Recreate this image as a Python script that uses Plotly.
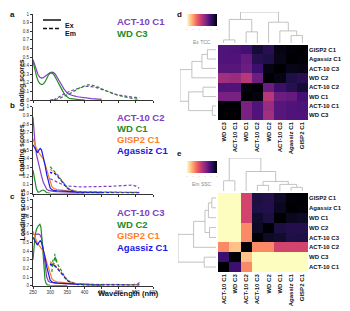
import plotly.graph_objects as go
import plotly.colors as pc

W, H = 350, 311
def X(px): return px / W
def Y(py): return 1 - py / H

PURPLE = '#8040C0'; GREEN = '#228B22'; ORANGE = '#FF7F27'; BLUE = '#1A1AE6'
FONT = 'Liberation Sans'
DASH = '3px,2px'

# ---------------- spectra data ----------------
# panel a
wl_act10c1_ex = [250,255,260,265,270,275,280,285,290,295,300,305,310,315,320,325,330,335,340,345,350,355,360,370,380,390,400,420,440,450]
act10c1_ex = [0.47,0.40,0.33,0.29,0.265,0.255,0.26,0.275,0.295,0.31,0.32,0.323,0.318,0.30,0.27,0.235,0.20,0.165,0.13,0.10,0.08,0.067,0.058,0.047,0.038,0.031,0.025,0.017,0.011,0.008]
wl_wdc3_ex = [250,255,260,265,270,275,280,285,290,295,300,305,310,315,320,325,330,335,340,345,350,355,360,370,380,390,400]
wdc3_ex = [0.45,0.36,0.28,0.22,0.19,0.18,0.185,0.21,0.25,0.29,0.31,0.315,0.30,0.27,0.23,0.19,0.15,0.11,0.08,0.05,0.03,0.02,0.015,0.008,0.004,0.002,0.001]
wl_act10c1_em = [310,320,330,340,350,360,370,380,390,400,410,420,430,440,450,460,470,480,490,500,510,520,530,540,550,560]
act10c1_em = [0.0,0.02,0.045,0.07,0.09,0.105,0.12,0.135,0.148,0.157,0.16,0.158,0.15,0.138,0.123,0.108,0.094,0.08,0.068,0.058,0.05,0.043,0.037,0.032,0.03,0.028]
wl_wdc3_em = [300,310,320,330,340,350,360,370,380,390,400,410,420,430,440,450,460,470,480,490,500,510,520,530,540,550,560]
wdc3_em = [0.0,0.005,0.012,0.025,0.04,0.06,0.08,0.10,0.125,0.15,0.168,0.177,0.175,0.165,0.15,0.13,0.112,0.095,0.078,0.064,0.052,0.042,0.033,0.025,0.018,0.012,0.008]

# panel b
wl_act10c2_ex = [250,253,256,260,265,270,275,280,285,290,295,300,310,320,340,360,400,450]
act10c2_ex = [0.88,0.70,0.57,0.45,0.36,0.28,0.20,0.13,0.08,0.05,0.035,0.03,0.025,0.02,0.016,0.014,0.01,0.008]
wl_gisp2c1_ex = [250,255,260,265,270,275,280,285,290,295,300,305,310,320,340,360,400,450]
gisp2c1_ex = [0.63,0.57,0.52,0.48,0.45,0.43,0.40,0.34,0.27,0.19,0.12,0.08,0.06,0.045,0.035,0.025,0.015,0.01]
wl_agassizc1_ex = [250,255,260,263,267,271,275,280,285,290,295,300,305,310,320,340,360,400,450]
agassizc1_ex = [0.56,0.52,0.48,0.47,0.50,0.52,0.50,0.43,0.33,0.22,0.12,0.065,0.045,0.035,0.03,0.025,0.02,0.015,0.01]
wl_wdc1_ex = [250,253,256,260,265,270,275,280,285,290,300,320,350,400]
wdc1_ex = [0.27,0.20,0.12,0.05,0.015,0.02,0.035,0.04,0.03,0.01,0.003,0.002,0.001,0.0]
wl_wdc1_em = [300,305,310,315,320,325,330,335,340,345,350,360,370,380,400,420,450,480,500,520,540,560]
wdc1_em = [0.31,0.29,0.27,0.25,0.23,0.20,0.17,0.14,0.11,0.085,0.065,0.04,0.028,0.022,0.02,0.02,0.02,0.018,0.02,0.018,0.015,0.012]
wl_gisp2c1_em = [300,305,310,315,320,325,330,335,340,345,350,360,370,380,400,450,500,560]
gisp2c1_em = [0.28,0.265,0.25,0.235,0.215,0.19,0.165,0.14,0.115,0.09,0.07,0.045,0.03,0.022,0.018,0.015,0.013,0.012]
wl_agassizc1_em = [300,303,306,310,315,320,325,330,335,340,345,350,360,370,380,400,450,500,560]
agassizc1_em = [0.25,0.235,0.245,0.24,0.225,0.205,0.18,0.155,0.13,0.105,0.08,0.06,0.035,0.02,0.013,0.01,0.008,0.008,0.008]
wl_act10c2_em = [300,305,310,320,330,340,350,360,380,400,420,440,460,480,500,520,530,540,550,560]
act10c2_em = [0.17,0.16,0.15,0.13,0.11,0.095,0.087,0.082,0.078,0.077,0.077,0.078,0.08,0.083,0.088,0.095,0.1,0.098,0.085,0.06]

# panel c
wl_act10c3_ex = [250,255,260,265,270,275,280,285,290,295,300,310,320,340,360,400,450]
act10c3_ex = [0.60,0.585,0.595,0.60,0.59,0.55,0.42,0.25,0.10,0.05,0.04,0.035,0.03,0.025,0.02,0.015,0.01]
wl_wdc2_ex = [250,253,256,260,265,270,273,276,279,282,285,288,292,300,320,350]
wdc2_ex = [0.30,0.45,0.58,0.65,0.69,0.71,0.68,0.55,0.35,0.17,0.07,0.03,0.01,0.005,0.003,0.001]
wl_wdc2_em = [305,308,310,312,314,316,318,320,325,330,335,340,345,350,360,370,380,400,450,500,560]
wdc2_em = [0.16,0.30,0.22,0.33,0.37,0.28,0.32,0.26,0.23,0.19,0.16,0.12,0.09,0.065,0.04,0.025,0.018,0.012,0.01,0.01,0.01]
wl_act10c3_em = [300,305,310,315,320,325,330,335,340,345,350,360,370,380,400,450,500,540,555,562]
act10c3_em = [0.26,0.25,0.24,0.225,0.205,0.18,0.155,0.13,0.105,0.08,0.06,0.04,0.025,0.018,0.013,0.01,0.01,0.012,0.02,0.04]

# ---------------- heatmap data ----------------
labels_d = ["WD C3", "ACT-10 C1", "WD C1", "ACT-10 C2", "WD C2", "ACT-10 C3", "Agassiz C1", "GISP2 C1"]
tcc_ex = [
    [1.00, 1.00, 0.65, 0.75, 0.55, 0.73, 0.75, 0.75],
    [1.00, 1.00, 0.65, 0.75, 0.57, 0.73, 0.75, 0.76],
    [0.65, 0.65, 1.00, 0.98, 0.50, 0.68, 0.70, 0.78],
    [0.75, 0.75, 0.98, 1.00, 0.68, 0.80, 0.85, 0.90],
    [0.55, 0.57, 0.50, 0.68, 1.00, 0.97, 0.87, 0.85],
    [0.73, 0.73, 0.68, 0.80, 0.97, 1.00, 0.96, 0.97],
    [0.75, 0.75, 0.70, 0.85, 0.87, 0.96, 1.00, 0.99],
    [0.75, 0.76, 0.78, 0.90, 0.85, 0.97, 0.99, 1.00],
]
# linkage: (left, right, height) ; leaves are indices into labels
link_d = (((0, 1, 0.10), (2, 3, 0.36), 0.76), (4, (5, (6, 7, 0.24), 0.39), 0.67), 1.0)

labels_e = ["ACT-10 C1", "WD C3", "ACT-10 C2", "ACT-10 C3", "WD C2", "WD C1", "Agassiz C1", "GISP2 C1"]
ssc_em = [
    [1.00, 0.80, 0.25, 0.00, 0.00, 0.00, 0.00, 0.00],
    [0.80, 1.00, 0.13, 0.00, 0.00, 0.00, 0.00, 0.00],
    [0.25, 0.13, 1.00, 0.25, 0.25, 0.43, 0.43, 0.43],
    [0.00, 0.00, 0.25, 1.00, 0.93, 0.92, 0.87, 0.88],
    [0.00, 0.00, 0.25, 0.93, 1.00, 0.88, 0.86, 0.86],
    [0.00, 0.00, 0.43, 0.92, 0.88, 1.00, 0.95, 0.93],
    [0.00, 0.00, 0.43, 0.87, 0.86, 0.95, 1.00, 0.99],
    [0.00, 0.00, 0.43, 0.88, 0.86, 0.93, 0.99, 1.00],
]
link_e = ((0, 1, 0.31), (2, ((3, 4, 0.17), (5, (6, 7, 0.11), 0.20), 0.29), 0.59), 1.0)

cbar_ticks = [0, 0.2, 0.4, 0.6, 0.8, 1.0]

# ---------------- figure ----------------
fig = go.Figure()

panels = [
    ('x', 'y', 14, 100, [
        (wl_act10c1_ex, act10c1_ex, PURPLE, 'solid'),
        (wl_wdc3_ex, wdc3_ex, GREEN, 'solid'),
        (wl_act10c1_em, act10c1_em, PURPLE, DASH),
        (wl_wdc3_em, wdc3_em, GREEN, DASH),
    ], [("ACT-10 C1", PURPLE), ("WD C3", GREEN)], 22, 11.0),
    ('x2', 'y2', 106.7, 193.5, [
        (wl_act10c2_ex, act10c2_ex, PURPLE, 'solid'),
        (wl_wdc1_ex, wdc1_ex, GREEN, 'solid'),
        (wl_gisp2c1_ex, gisp2c1_ex, ORANGE, 'solid'),
        (wl_agassizc1_ex, agassizc1_ex, BLUE, 'solid'),
        (wl_act10c2_em, act10c2_em, PURPLE, DASH),
        (wl_wdc1_em, wdc1_em, GREEN, DASH),
        (wl_gisp2c1_em, gisp2c1_em, ORANGE, DASH),
        (wl_agassizc1_em, agassizc1_em, BLUE, DASH),
    ], [("ACT-10 C2", PURPLE), ("WD C1", GREEN), ("GISP2 C1", ORANGE), ("Agassiz C1", BLUE)], 117.7, 10.8),
    ('x3', 'y3', 199.3, 285.7, [
        (wl_act10c3_ex, act10c3_ex, PURPLE, 'solid'),
        (wl_wdc2_ex, wdc2_ex, GREEN, 'solid'),
        (wl_gisp2c1_ex, gisp2c1_ex, ORANGE, 'solid'),
        (wl_agassizc1_ex, agassizc1_ex, BLUE, 'solid'),
        (wl_act10c3_em, act10c3_em, PURPLE, DASH),
        (wl_wdc2_em, wdc2_em, GREEN, DASH),
        (wl_gisp2c1_em, gisp2c1_em, ORANGE, DASH),
        (wl_agassizc1_em, agassizc1_em, BLUE, DASH),
    ], [("ACT-10 C3", PURPLE), ("WD C2", GREEN), ("GISP2 C1", ORANGE), ("Agassiz C1", BLUE)], 212.7, 11.5),
]

annotations = []
layout_axes = {}
for i, (xa, ya, top, bot, series, leg, ly0, ldy) in enumerate(panels):
    for wl, v, col, dash in series:
        fig.add_trace(go.Scatter(x=wl, y=v, mode='lines', xaxis=xa, yaxis=ya,
                                 line=dict(color=col, width=1.2, dash=dash),
                                 hoverinfo='skip', showlegend=False))
    xk = 'xaxis' if xa == 'x' else 'xaxis' + xa[1:]
    yk = 'yaxis' if ya == 'y' else 'yaxis' + ya[1:]
    layout_axes[xk] = dict(domain=[X(33), X(153)], range=[250, 600], anchor=ya, automargin=False,
                           showline=True, linecolor='#333', linewidth=1, showgrid=False,
                           zeroline=False, ticks='outside', ticklen=2, tickcolor='#333',
                           tickvals=[250, 300, 350, 400, 450, 500, 550, 600],
                           showticklabels=(i == 2), tickfont=dict(size=4.5, color='#333', family=FONT))
    layout_axes[yk] = dict(domain=[Y(bot), Y(top)], range=[0, 1], anchor=xa, automargin=False,
                           showline=True, linecolor='#333', linewidth=1, showgrid=False,
                           zeroline=False, ticks='outside', ticklen=2, tickcolor='#333',
                           tickvals=[0, 0.1, 0.2, 0.3, 0.4, 0.5, 0.6, 0.7, 0.8, 0.9, 1],
                           ticktext=['0', '0.1', '0.2', '0.3', '0.4', '0.5', '0.6', '0.7', '0.8', '0.9', '1'],
                           tickfont=dict(size=4.5, color='#333', family=FONT))
    annotations.append(dict(x=X(16), y=Y((top + bot) / 2), xref='paper', yref='paper',
                            text='<b>Loading scores</b>', textangle=-90, showarrow=False,
                            font=dict(size=7, color='#111', family=FONT)))
    for k, (t, c) in enumerate(leg):
        annotations.append(dict(x=X(115), y=Y(ly0 + k * ldy), xref='paper', yref='paper',
                                xanchor='left', yanchor='middle', text='<b>%s</b>' % t,
                                showarrow=False, font=dict(size=9.5, color=c, family=FONT)))

annotations.append(dict(x=X(96), y=Y(299.5), xref='paper', yref='paper', text='<b>Wavelength (nm)</b>',
                        showarrow=False, font=dict(size=7.5, color='#111', family=FONT)))
for t, px, py in [('a', 8, 8), ('b', 8, 106), ('c', 8, 196), ('d', 179, 8), ('e', 179, 154)]:
    annotations.append(dict(x=X(px), y=Y(py), xref='paper', yref='paper', text='<b>%s</b>' % t,
                            showarrow=False, font=dict(size=8, color='#111', family=FONT)))
# Ex / Em legend
annotations.append(dict(x=X(63), y=Y(20), xref='paper', yref='paper', xanchor='left', text='<b>Ex</b>',
                        showarrow=False, font=dict(size=7, color='#111', family=FONT)))
annotations.append(dict(x=X(63), y=Y(28.5), xref='paper', yref='paper', xanchor='left', text='<b>Em</b>',
                        showarrow=False, font=dict(size=7, color='#111', family=FONT)))
shapes = [
    dict(type='line', xref='paper', yref='paper', x0=X(43), x1=X(61), y0=Y(20), y1=Y(20),
         line=dict(color='#111', width=1.5)),
    dict(type='line', xref='paper', yref='paper', x0=X(43), x1=X(61), y0=Y(28.5), y1=Y(28.5),
         line=dict(color='#111', width=1.5, dash='4px,2px')),
]

# ---------------- heatmaps + dendrograms ----------------
magma_r = pc.sequential.Magma[::-1]
cs = [[i / (len(magma_r) - 1), c] for i, c in enumerate(magma_r)]


def dendro_segments(node):
    segs = []
    def rec(n):
        if isinstance(n, int):
            return float(n), 0.0
        a, b, h = n
        pa, ha = rec(a)
        pb, hb = rec(b)
        segs.append(((pa, ha), (pa, h), (pb, h), (pb, hb)))
        return (pa + pb) / 2, h
    rec(node)
    return segs


def add_cluster(labels, mat, link, n0, hx0, hx1, hy0, hy1, dtop, lx0, cax, cb_top, cb_label):
    hx, hy = 'x%d' % n0, 'y%d' % n0
    tx, ty = 'x%d' % (n0 + 1), 'y%d' % (n0 + 1)
    lx, ly = 'x%d' % (n0 + 2), 'y%d' % (n0 + 2)
    n = len(labels)
    fig.add_trace(go.Heatmap(z=mat, x=list(range(n)), y=list(range(n)), coloraxis=cax,
                             xaxis=hx, yaxis=hy, hoverinfo='skip'))
    segs = dendro_segments(link)
    xs, ys = [], []
    for s in segs:
        for p in s:
            xs.append(p[0]); ys.append(p[1])
        xs.append(None); ys.append(None)
    fig.add_trace(go.Scatter(x=xs, y=ys, mode='lines', xaxis=tx, yaxis=ty,
                             line=dict(color='#b4b4b4', width=0.8), hoverinfo='skip', showlegend=False))
    fig.add_trace(go.Scatter(x=ys, y=xs, mode='lines', xaxis=lx, yaxis=ly,
                             line=dict(color='#b4b4b4', width=0.8), hoverinfo='skip', showlegend=False))
    tf = dict(size=6, color='#111', family=FONT, weight='bold')
    layout_axes['xaxis%d' % n0] = dict(domain=[X(hx0), X(hx1)], range=[-0.5, n - 0.5], anchor=hy,
                                       tickvals=list(range(n)), ticktext=labels, tickangle=-90,
                                       automargin=False,
                                       tickfont=tf, ticks='', showgrid=False, zeroline=False, showline=False)
    layout_axes['yaxis%d' % n0] = dict(domain=[Y(hy1), Y(hy0)], range=[-0.5, n - 0.5], anchor=hx,
                                       side='right', tickvals=list(range(n)), ticktext=labels,
                                       automargin=False,
                                       tickfont=tf, ticks='', showgrid=False, zeroline=False, showline=False)
    layout_axes['xaxis%d' % (n0 + 1)] = dict(domain=[X(hx0), X(hx1)], range=[-0.5, n - 0.5], anchor=ty,
                                             visible=False)
    layout_axes['yaxis%d' % (n0 + 1)] = dict(domain=[Y(hy0 - 2), Y(dtop)], range=[0, 1], anchor=tx,
                                             visible=False)
    layout_axes['xaxis%d' % (n0 + 2)] = dict(domain=[X(lx0), X(hx0 - 2)], range=[1, 0], anchor=ly,
                                             visible=False)
    layout_axes['yaxis%d' % (n0 + 2)] = dict(domain=[Y(hy1), Y(hy0)], range=[-0.5, n - 0.5], anchor=lx,
                                             visible=False)
    layout_axes[cax] = dict(
        colorscale=cs, cmin=0, cmax=1,
        colorbar=dict(orientation='h', x=X(187), xanchor='left', y=Y(cb_top), yanchor='top',
                      len=30, lenmode='pixels', thickness=12, thicknessmode='pixels',
                      outlinewidth=0, xpad=0, ypad=0, ticks='', tickvals=cbar_ticks,
                      ticktext=["'"] * len(cbar_ticks),
                      tickfont=dict(size=5, color='#aaa', family=FONT)))
    annotations.append(dict(x=X(202), y=Y(cb_top + 23), xref='paper', yref='paper', text=cb_label,
                            showarrow=False, font=dict(size=5, color='#888', family=FONT)))


add_cluster(labels_d, tcc_ex, link_d, 4, 218, 308, 45, 120, 12, 180, 'coloraxis', 14, 'Ex TCC')
add_cluster(labels_e, ssc_em, link_e, 7, 218, 308, 193, 272, 158, 178, 'coloraxis2', 161, 'Em SSC')

fig.update_layout(width=W, height=H, margin=dict(l=0, r=0, t=0, b=0, pad=0, autoexpand=False),
                  paper_bgcolor='white', plot_bgcolor='white', showlegend=False,
                  font=dict(family=FONT), annotations=annotations, shapes=shapes, **layout_axes)

fig.write_html("out.html", config={'displayModeBar': False, 'staticPlot': True},
               post_script="document.body.style.margin='0';document.body.style.padding='0';")
